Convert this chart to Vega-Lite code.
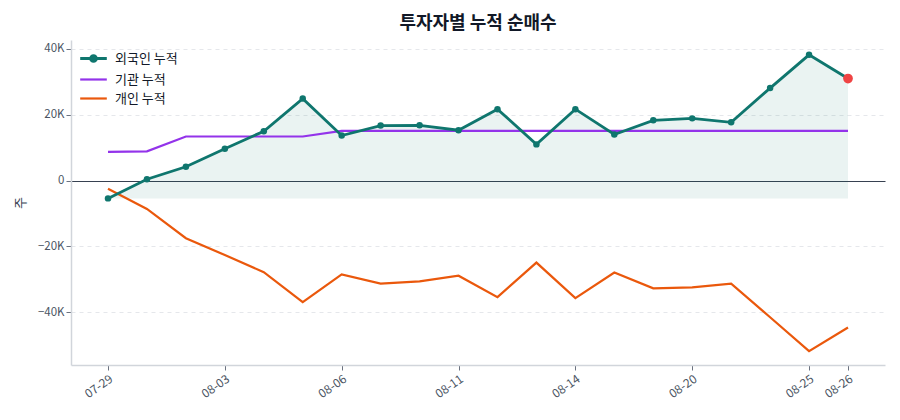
{
  "$schema": "https://vega.github.io/schema/vega-lite/v6.json",
  "width": 814,
  "height": 325,
  "autosize": {"type": "none"},
  "padding": {"left": 71, "top": 40, "right": 15, "bottom": 55},
  "background": "white",
  "title": {"text": "투자자별 누적 순매수", "fontSize": 18, "font": "Noto Sans CJK KR", "fontWeight": "bold", "color": "#111827", "anchor": "middle", "offset": 7},
  "config": {
    "font": "Noto Sans CJK KR",
    "view": {"stroke": null},
    "axisY": {"domainColor": "#d1d5db", "domainWidth": 1.5, "tickColor": "#6b7280", "tickSize": 5, "labelColor": "#4b5563", "labelFontSize": 11.5, "titleColor": "#374151", "titleFontSize": 13, "titleFontWeight": "normal", "titlePadding": 10},
    "axisX": {"domainColor": "#d1d5db", "domainWidth": 1.5, "tickColor": "#6b7280", "tickSize": 5, "labelColor": "#4b5563", "labelFontSize": 12, "grid": false}
  },
  "data": {"values": [
    {"date": "07-29", "series": "외국인 누적", "value": -5400},
    {"date": "07-30", "series": "외국인 누적", "value": 400},
    {"date": "07-31", "series": "외국인 누적", "value": 4200},
    {"date": "08-03", "series": "외국인 누적", "value": 9700},
    {"date": "08-04", "series": "외국인 누적", "value": 15000},
    {"date": "08-05", "series": "외국인 누적", "value": 24900},
    {"date": "08-06", "series": "외국인 누적", "value": 13700},
    {"date": "08-07", "series": "외국인 누적", "value": 16700},
    {"date": "08-10", "series": "외국인 누적", "value": 16800},
    {"date": "08-11", "series": "외국인 누적", "value": 15300},
    {"date": "08-12", "series": "외국인 누적", "value": 21700},
    {"date": "08-13", "series": "외국인 누적", "value": 11000},
    {"date": "08-14", "series": "외국인 누적", "value": 21700},
    {"date": "08-18", "series": "외국인 누적", "value": 14000},
    {"date": "08-19", "series": "외국인 누적", "value": 18300},
    {"date": "08-20", "series": "외국인 누적", "value": 18900},
    {"date": "08-21", "series": "외국인 누적", "value": 17700},
    {"date": "08-24", "series": "외국인 누적", "value": 28100},
    {"date": "08-25", "series": "외국인 누적", "value": 38200},
    {"date": "08-26", "series": "외국인 누적", "value": 31000},
    {"date": "07-29", "series": "기관 누적", "value": 8700},
    {"date": "07-30", "series": "기관 누적", "value": 8900},
    {"date": "07-31", "series": "기관 누적", "value": 13400},
    {"date": "08-03", "series": "기관 누적", "value": 13400},
    {"date": "08-04", "series": "기관 누적", "value": 13400},
    {"date": "08-05", "series": "기관 누적", "value": 13400},
    {"date": "08-06", "series": "기관 누적", "value": 15100},
    {"date": "08-07", "series": "기관 누적", "value": 15100},
    {"date": "08-10", "series": "기관 누적", "value": 15100},
    {"date": "08-11", "series": "기관 누적", "value": 15100},
    {"date": "08-12", "series": "기관 누적", "value": 15100},
    {"date": "08-13", "series": "기관 누적", "value": 15100},
    {"date": "08-14", "series": "기관 누적", "value": 15100},
    {"date": "08-18", "series": "기관 누적", "value": 15100},
    {"date": "08-19", "series": "기관 누적", "value": 15100},
    {"date": "08-20", "series": "기관 누적", "value": 15100},
    {"date": "08-21", "series": "기관 누적", "value": 15100},
    {"date": "08-24", "series": "기관 누적", "value": 15100},
    {"date": "08-25", "series": "기관 누적", "value": 15100},
    {"date": "08-26", "series": "기관 누적", "value": 15100},
    {"date": "07-29", "series": "개인 누적", "value": -2500},
    {"date": "07-30", "series": "개인 누적", "value": -8600},
    {"date": "07-31", "series": "개인 누적", "value": -17500},
    {"date": "08-03", "series": "개인 누적", "value": -22600},
    {"date": "08-04", "series": "개인 누적", "value": -27800},
    {"date": "08-05", "series": "개인 누적", "value": -36900},
    {"date": "08-06", "series": "개인 누적", "value": -28500},
    {"date": "08-07", "series": "개인 누적", "value": -31300},
    {"date": "08-10", "series": "개인 누적", "value": -30600},
    {"date": "08-11", "series": "개인 누적", "value": -28900},
    {"date": "08-12", "series": "개인 누적", "value": -35400},
    {"date": "08-13", "series": "개인 누적", "value": -24900},
    {"date": "08-14", "series": "개인 누적", "value": -35700},
    {"date": "08-18", "series": "개인 누적", "value": -27900},
    {"date": "08-19", "series": "개인 누적", "value": -32700},
    {"date": "08-20", "series": "개인 누적", "value": -32400},
    {"date": "08-21", "series": "개인 누적", "value": -31300},
    {"date": "08-24", "series": "개인 누적", "value": -41500},
    {"date": "08-25", "series": "개인 누적", "value": -51800},
    {"date": "08-26", "series": "개인 누적", "value": -44600}
  ]},
  "encoding": {
    "x": {
      "field": "date", "type": "ordinal", "sort": "ascending",
      "scale": {"type": "point", "padding": 0.95},
      "axis": {"title": null, "values": ["07-29", "08-03", "08-06", "08-11", "08-14", "08-20", "08-25", "08-26"], "labelAngle": -35, "labelAlign": "right", "labelBaseline": "top", "labelPadding": 3}
    },
    "y": {
      "field": "value", "type": "quantitative",
      "scale": {"domain": [-56000, 42700], "nice": false, "zero": false},
      "axis": {
        "title": "주",
        "values": [-40000, -20000, 0, 20000, 40000],
        "labelExpr": "datum.value === 0 ? '0' : format(datum.value / 1000, 'd') + 'K'",
        "grid": true,
        "gridDash": {"condition": {"test": "datum.value === 0", "value": []}, "value": [4, 4]},
        "gridColor": {"condition": {"test": "datum.value === 0", "value": "#374151"}, "value": "#e5e7eb"},
        "gridWidth": {"condition": {"test": "datum.value === 0", "value": 1.2}, "value": 1}
      }
    }
  },
  "layer": [
    {
      "transform": [
        {"filter": "datum.series === '외국인 누적'"},
        {"joinaggregate": [{"op": "min", "field": "value", "as": "base"}]}
      ],
      "mark": {"type": "area", "color": "#0f766e", "opacity": 0.085},
      "encoding": {"y2": {"field": "base"}}
    },
    {
      "transform": [{"filter": "datum.series !== '외국인 누적'"}],
      "mark": {"type": "line", "strokeWidth": 2.2},
      "encoding": {
        "color": {
          "field": "series", "type": "nominal",
          "scale": {"domain": ["외국인 누적", "기관 누적", "개인 누적"], "range": ["#0f766e", "#9333ea", "#ea580c"]},
          "legend": {
            "orient": "none", "legendX": 16, "legendY": 12, "title": null,
            "symbolType": "M-1.9,0H1.9", "symbolSize": 196, "symbolStrokeWidth": 2.5,
            "labelFontSize": 13, "labelColor": "#111827", "labelOffset": 15, "rowPadding": 5, "padding": 0,
            "encode": {"symbols": {"update": {
              "shape": {"signal": "datum.value === '외국인 누적' ? 'M-1.9,0H1.9M0.42,0A0.42,0.42,0,1,1,-0.42,0A0.42,0.42,0,1,1,0.42,0' : 'M-1.9,0H1.9'"},
              "fill": {"signal": "datum.value === '외국인 누적' ? '#0f766e' : 'transparent'"},
              "strokeWidth": {"signal": "datum.value === '외국인 누적' ? 2.8 : 2.2"}
            }}}
          }
        }
      }
    },
    {
      "transform": [{"filter": "datum.series === '외국인 누적'"}],
      "mark": {"type": "line", "strokeWidth": 2.8},
      "encoding": {"color": {"field": "series", "type": "nominal"}}
    },
    {
      "transform": [{"filter": "datum.series === '외국인 누적'"}],
      "mark": {"type": "point", "filled": true, "color": "#0f766e", "size": 42, "opacity": 1}
    },
    {
      "transform": [{"filter": "datum.series === '외국인 누적' && datum.date === '08-26'"}],
      "mark": {"type": "point", "filled": true, "color": "#ef4444", "size": 95, "opacity": 1}
    }
  ]
}
